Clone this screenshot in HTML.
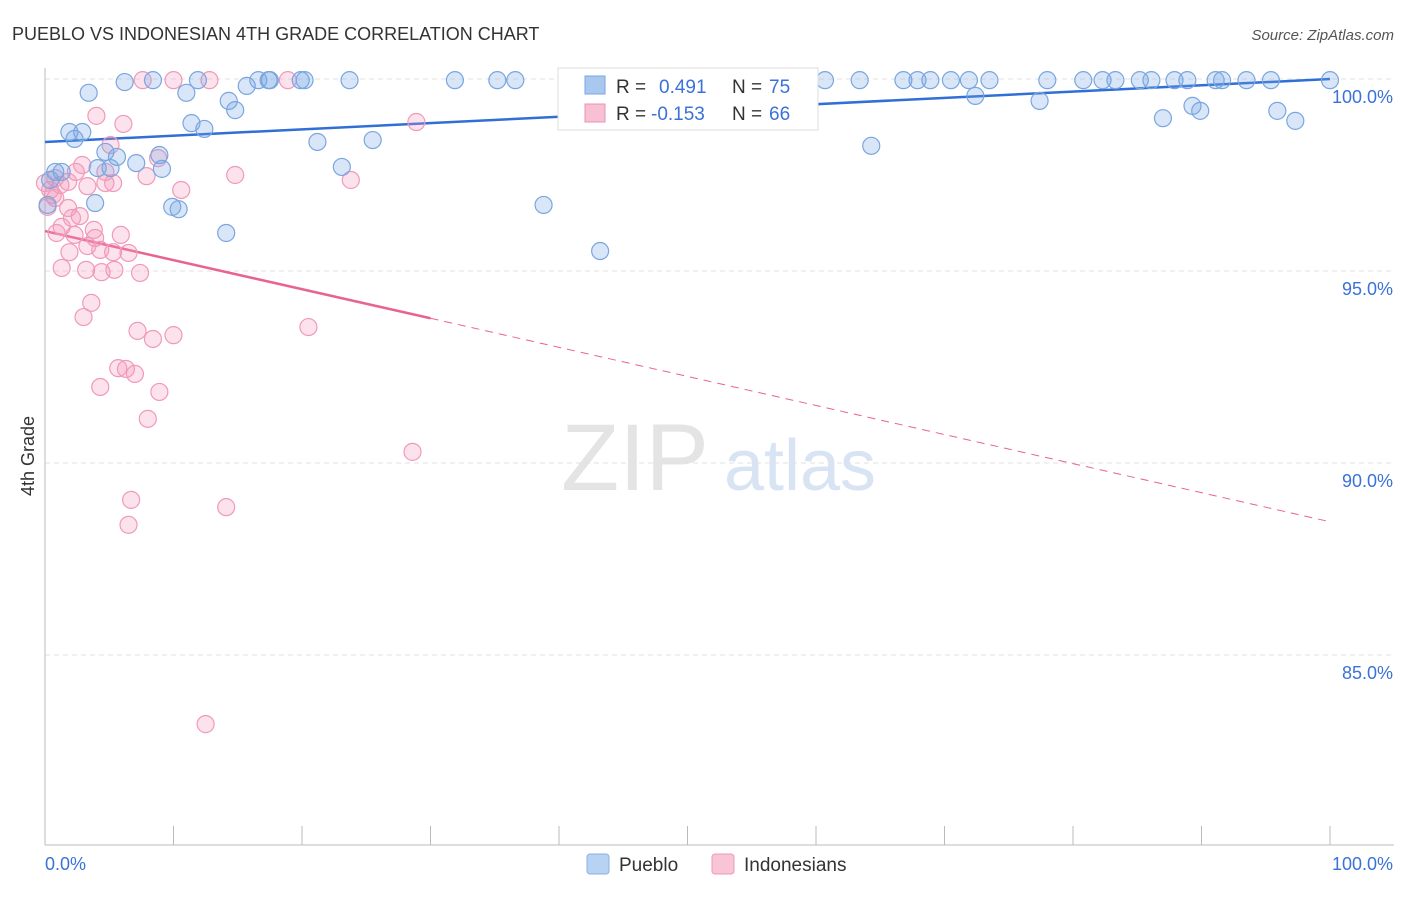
<!DOCTYPE html>
<html><head><meta charset="utf-8"><style>
body{margin:0;background:#fff;font-family:"Liberation Sans",sans-serif}
svg text{font-family:"Liberation Sans",sans-serif}
</style></head><body>
<svg id="c" width="1406" height="892" xmlns="http://www.w3.org/2000/svg">
<text x="12" y="40" font-size="18" fill="#333">PUEBLO VS INDONESIAN 4TH GRADE CORRELATION CHART</text>
<text x="1394" y="40" font-size="15" fill="#555" font-style="italic" text-anchor="end">Source: ZipAtlas.com</text>
<text x="34" y="456" font-size="18" fill="#333" text-anchor="middle" transform="rotate(-90 34 456)">4th Grade</text>
<g><text x="635" y="490" font-size="95" fill="#e4e4e4" font-family="Liberation Serif" text-anchor="middle">ZIP</text><text x="800" y="490" font-size="72" fill="#d8e4f4" text-anchor="middle">atlas</text></g>
<g id="grid"></g><g id="axes"></g><g id="lines"></g><g id="pts"></g>
<g>
<rect x="558" y="68" width="260" height="62" fill="#fff" stroke="#ddd"/>
<rect x="585" y="76" width="20" height="18" fill="#a8c8f0" stroke="#7aa6e0"/>
<text x="616" y="93" font-size="19" fill="#333">R = </text><text x="659" y="93" font-size="19" fill="#3a72d8">0.491</text>
<text x="732" y="93" font-size="19" fill="#333">N = </text><text x="769" y="93" font-size="19" fill="#3a72d8">75</text>
<rect x="585" y="104" width="20" height="18" fill="#f8c0d4" stroke="#ee90b0"/>
<text x="616" y="120" font-size="19" fill="#333">R = </text><text x="651" y="120" font-size="19" fill="#3a72d8">-0.153</text>
<text x="732" y="120" font-size="19" fill="#333">N = </text><text x="769" y="120" font-size="19" fill="#3a72d8">66</text>
</g>
<g>
<rect x="587" y="854" width="22" height="20" rx="3" fill="#b8d2f4" stroke="#8ab0e4"/>
<text x="619" y="871" font-size="19" fill="#333">Pueblo</text>
<rect x="712" y="854" width="22" height="20" rx="3" fill="#f8c4d6" stroke="#ee9ab8"/>
<text x="744" y="871" font-size="19" fill="#333">Indonesians</text>
</g>
</svg>
<script>
const blueX=[3.4,6.2,8.4,11.0,11.9,14.3,14.8,15.7,16.6,17.5,17.4,19.9,20.2,23.7,31.9,35.2,36.6,1.9,2.9,2.3,11.4,12.4,21.2,25.5,4.7,5.6,7.1,8.9,9.1,0.8,1.3,4.1,5.1,23.1,3.9,9.9,10.4,14.1,38.8,43.2,41.2,42.3,45.9,47.1,59.4,60.7,63.4,66.8,67.9,68.9,70.5,71.9,73.5,72.4,78.0,80.8,82.3,83.3,85.2,86.1,87.9,88.9,91.1,91.6,93.5,95.4,100,77.4,87.0,89.3,89.9,95.9,97.3,64.3,0.2,0.4];
const blueY=[99.64,99.92,99.97,99.64,99.97,99.43,99.19,99.82,99.97,99.97,99.97,99.97,99.97,99.97,99.97,99.97,99.97,98.62,98.62,98.44,98.85,98.70,98.36,98.41,98.10,97.97,97.81,98.02,97.66,97.58,97.58,97.68,97.68,97.71,96.77,96.67,96.61,95.99,96.72,95.52,99.64,99.97,99.97,99.97,99.97,99.97,99.97,99.97,99.97,99.97,99.97,99.97,99.97,99.56,99.97,99.97,99.97,99.97,99.97,99.97,99.97,99.97,99.97,99.97,99.97,99.97,99.97,99.43,98.98,99.30,99.17,99.17,98.91,98.26,96.72,97.37];
const pinkX=[7.6,10.0,12.8,18.9,4.0,6.1,28.9,5.1,8.8,2.9,4.7,2.4,0.8,1.2,1.8,3.3,4.7,5.3,7.9,10.6,14.8,23.8,0.4,0.8,0.2,1.8,2.7,2.1,3.8,1.3,0.9,2.3,3.9,5.9,3.3,1.9,4.3,5.3,6.5,1.3,3.2,4.4,5.4,7.4,3.6,3.0,7.2,10.0,8.4,20.5,5.7,6.3,7.0,4.3,8.9,8.0,28.6,6.7,6.5,14.1,12.5,0.6,0];
const pinkY=[99.97,99.97,99.97,99.97,99.04,98.83,98.88,98.28,97.94,97.76,97.58,97.58,97.42,97.24,97.32,97.21,97.29,97.29,97.47,97.11,97.50,97.37,97.11,96.90,96.67,96.64,96.43,96.38,96.07,96.15,95.99,95.94,95.86,95.94,95.65,95.49,95.55,95.49,95.47,95.08,95.03,94.97,95.03,94.95,94.17,93.80,93.44,93.33,93.23,93.54,92.47,92.45,92.32,91.98,91.85,91.15,90.29,89.04,88.39,88.85,83.20,96.98,97.29];
const yTicks=[100,95,90,85];
const yTickLabels=["100.0%","95.0%","90.0%","85.0%"];
const blueTrend=[98.36,100.0];
const pinkTrend=[96.04,88.47];
const pinkSolidEnd=30;
const sx=v=>45+v*12.85, sy=v=>79+(100-v)*38.4;
const NS="http://www.w3.org/2000/svg";
function mk(p,t,a){const e=document.createElementNS(NS,t);for(const k in a)e.setAttribute(k,a[k]);p.appendChild(e);return e;}
const grid=document.getElementById('grid'),axes=document.getElementById('axes');
yTicks.forEach((t,i)=>{
 const g=mk(grid,'line',{x1:45,x2:1394,y1:sy(t),y2:sy(t),stroke:'#e2e2e2','stroke-dasharray':'5,4'});
 
 
 const tx=mk(axes,'text',{x:1393,y:sy(t)+24,'font-size':18,fill:'#3a72d8','text-anchor':'end'});tx.textContent=yTickLabels[i];
 
 
});
mk(axes,'line',{x1:45,x2:45,y1:68,y2:845,stroke:'#bbb'});
mk(axes,'line',{x1:45,x2:1394,y1:845,y2:845,stroke:'#bbb'});
for(let i=0;i<=10;i++){mk(axes,'line',{x1:sx(i*10),x2:sx(i*10),y1:826,y2:845,stroke:'#bbb'});}
let t0=mk(axes,'text',{x:45,y:870,'font-size':18,fill:'#3a72d8'});t0.textContent='0.0%';


let t1=mk(axes,'text',{x:1393,y:870,'font-size':18,fill:'#3a72d8','text-anchor':'end'});t1.textContent='100.0%';


const pts=document.getElementById('pts');
pinkX.forEach((x,i)=>{const c=mk(pts,'circle',{cx:sx(x),cy:sy(pinkY[i]),r:8.5,fill:'rgba(244,150,185,0.28)',stroke:'#f09ab8','stroke-width':1.2});
 
 });
blueX.forEach((x,i)=>{const c=mk(pts,'circle',{cx:sx(x),cy:sy(blueY[i]),r:8.5,fill:'rgba(120,165,230,0.28)',stroke:'#7aa6e0','stroke-width':1.2});
 
 });
const L=document.getElementById('lines');
const bl=mk(L,'line',{x1:sx(0),y1:sy(blueTrend[0]),x2:sx(100),y2:sy(blueTrend[1]),stroke:'#2f6fd6','stroke-width':2.5});


const pv=x=>pinkTrend[0]+(pinkTrend[1]-pinkTrend[0])*x/100;
const pl=mk(L,'line',{x1:sx(0),y1:sy(pv(0)),x2:sx(pinkSolidEnd),y2:sy(pv(pinkSolidEnd)),stroke:'#e8648e','stroke-width':2.5});


const pd=mk(L,'line',{x1:sx(pinkSolidEnd),y1:sy(pv(pinkSolidEnd)),x2:sx(100),y2:sy(pv(100)),stroke:'#e8648e','stroke-width':1,'stroke-dasharray':'8,6'});


</script>
</body></html>
